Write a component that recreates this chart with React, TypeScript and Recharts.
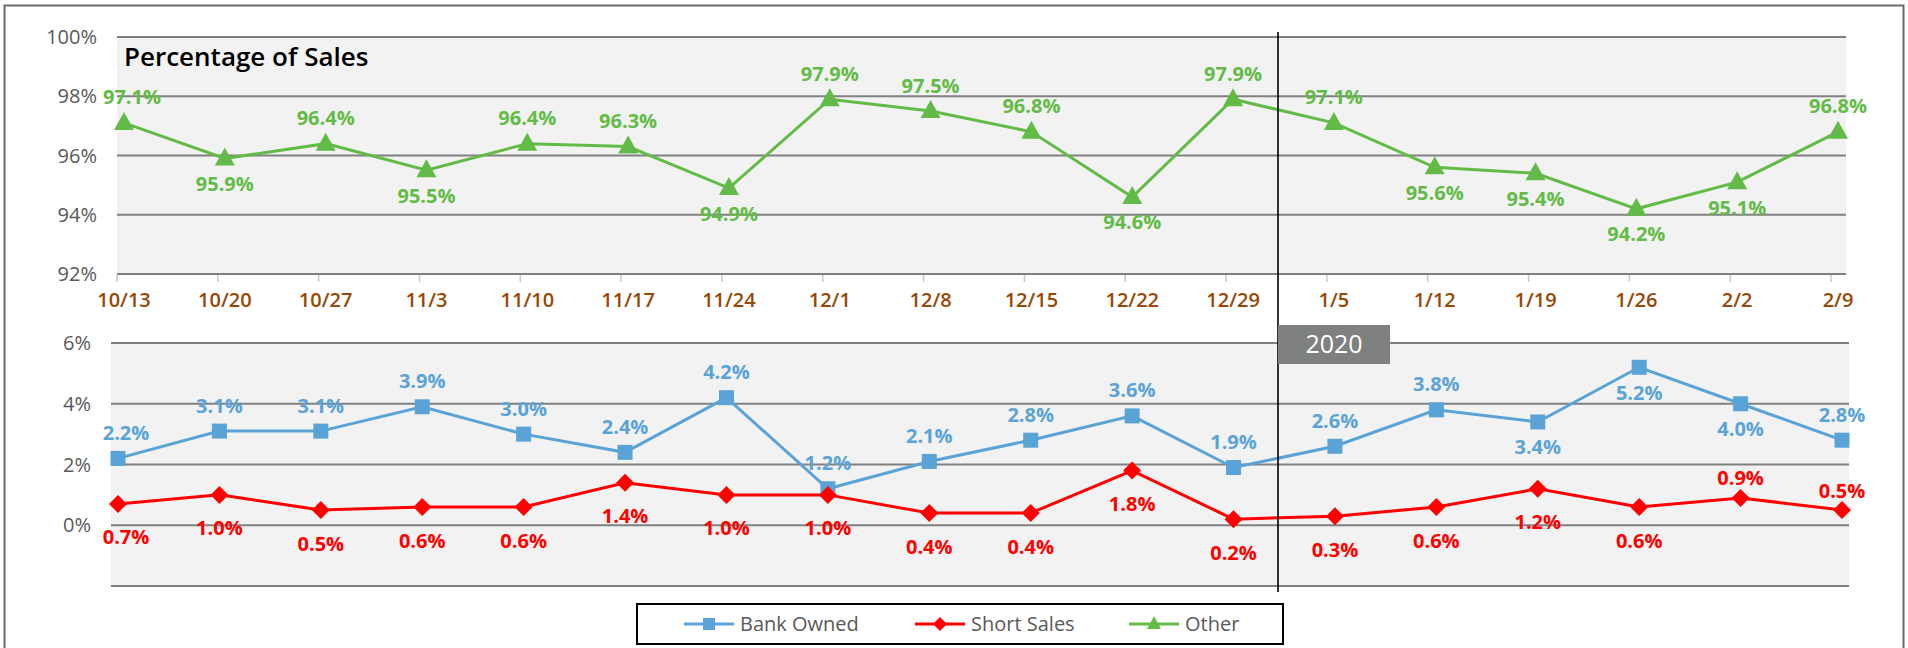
import React from "react";
import {
  LineChart,
  Line,
  XAxis,
  YAxis,
  CartesianGrid,
  LabelList,
} from "recharts";

// week labels
const weeks = [
  "10/13", "10/20", "10/27", "11/3", "11/10", "11/17", "11/24", "12/1", "12/8",
  "12/15", "12/22", "12/29", "1/5", "1/12", "1/19", "1/26", "2/2", "2/9",
];

// share of sales, %
const other = [97.1, 95.9, 96.4, 95.5, 96.4, 96.3, 94.9, 97.9, 97.5, 96.8, 94.6, 97.9, 97.1, 95.6, 95.4, 94.2, 95.1, 96.8];
const bankOwned = [2.2, 3.1, 3.1, 3.9, 3.0, 2.4, 4.2, 1.2, 2.1, 2.8, 3.6, 1.9, 2.6, 3.8, 3.4, 5.2, 4.0, 2.8];
const shortSales = [0.7, 1.0, 0.5, 0.6, 0.6, 1.4, 1.0, 1.0, 0.4, 0.4, 1.8, 0.2, 0.3, 0.6, 1.2, 0.6, 0.9, 0.5];

const topTicks = [92, 94, 96, 98, 100];
const bottomTicks = [-2, 0, 2, 4, 6];

// label side for each point (a = above, b = below)
const otherSide = "ababaabaaabaabbbba".split("");
const bankSide = "aaaaaaaaaaaaaabbba".split("");
const shortSide = "bbbbbbbbbbbbbbbbaa".split("");

const GREEN = "#62bb46";
const BLUE = "#5aa3d6";
const RED = "#ff0000";
const FONT = "'Open Sans', 'Noto Sans', sans-serif";

const topData = weeks.map((w, i) => ({ week: w, other: other[i] }));
const bottomData = weeks.map((w, i) => ({ week: w, bank: bankOwned[i], short: shortSales[i] }));

const pct = (v: number) => `${v.toFixed(1)}%`;

function makeLabel(color: string, sides: string[], up: number, down: number) {
  return (props: any) => {
    const { x, y, value, index } = props;
    const dy = sides[index] === "a" ? -up : down;
    // first label is nudged in so it clears the axis labels
    const dx = index === 0 ? 8 : 0;
    return (
      <text
        x={x + dx}
        y={y + dy}
        textAnchor="middle"
        dominantBaseline="central"
        fill={color}
        fontFamily={FONT}
        fontWeight={700}
        fontSize={20}
      >
        {pct(value)}
      </text>
    );
  };
}

const Triangle = (props: any) => {
  const { cx, cy, index } = props;
  if (cx == null || cy == null) return null;
  return (
    <polygon
      key={`t${index}`}
      points={`${cx},${cy - 11} ${cx - 10},${cy + 7} ${cx + 10},${cy + 7}`}
      fill={GREEN}
    />
  );
};

const Square = (props: any) => {
  const { cx, cy, index } = props;
  if (cx == null || cy == null) return null;
  return <rect key={`s${index}`} x={cx - 7.5} y={cy - 7.5} width={15} height={15} fill={BLUE} />;
};

const Diamond = (props: any) => {
  const { cx, cy, index } = props;
  if (cx == null || cy == null) return null;
  return (
    <polygon
      key={`d${index}`}
      points={`${cx},${cy - 9} ${cx + 9},${cy} ${cx},${cy + 9} ${cx - 9},${cy}`}
      fill={RED}
    />
  );
};

const WeekTick = (props: any) => {
  const { x, y, payload } = props;
  return (
    <g>
      <line x1={x - 7} x2={x - 7} y1={y + 1} y2={y + 8} stroke="#c8c8c8" strokeWidth={1.5} />
      <text x={x} y={y + 33} textAnchor="middle" fill="#984807" fontFamily={FONT} fontWeight={600} fontSize={20}>
        {payload.value}
      </text>
    </g>
  );
};

const yTickStyle = { fill: "#595959", fontSize: 20, fontFamily: FONT };

const legendItems = [
  { name: "Bank Owned", color: BLUE, marker: "square", x: 684 },
  { name: "Short Sales", color: RED, marker: "diamond", x: 915 },
  { name: "Other", color: GREEN, marker: "triangle", x: 1129 },
];

function LegendMarker({ kind, cx, cy, color }: { kind: string; cx: number; cy: number; color: string }) {
  if (kind === "square") return <rect x={cx - 6} y={cy - 6} width={12} height={12} fill={color} />;
  if (kind === "diamond")
    return <polygon points={`${cx},${cy - 7} ${cx + 7},${cy} ${cx},${cy + 7} ${cx - 7},${cy}`} fill={color} />;
  return <polygon points={`${cx},${cy - 8} ${cx - 7},${cy + 5} ${cx + 7},${cy + 5}`} fill={color} />;
}

export default function App() {
  return (
    <div style={{ position: "absolute", left: 0, top: 0, width: 1908, height: 648, background: "#fff" }}>
      {/* upper panel: Other */}
      <div style={{ position: "absolute", left: 0, top: 0 }}>
        <LineChart width={1908} height={320} data={topData} margin={{ top: 37, right: 62, bottom: 0, left: 0 }}>
          <CartesianGrid vertical={false} stroke="#808080" strokeWidth={1.8} fill="#f2f2f2" fillOpacity={1} />
          <XAxis
            dataKey="week"
            height={46}
            padding={{ left: 7, right: 8 }}
            axisLine={false}
            tickLine={false}
            tickSize={0}
            tickMargin={0}
            interval={0}
            tick={<WeekTick />}
          />
          <YAxis
            width={117}
            domain={[92, 100]}
            ticks={topTicks}
            tickFormatter={(v: number) => `${v}%`}
            axisLine={false}
            tickLine={false}
            tickSize={0}
            tickMargin={20}
            tick={yTickStyle}
          />
          <Line
            dataKey="other"
            name="Other"
            stroke={GREEN}
            strokeWidth={3}
            dot={Triangle}
            activeDot={false}
            isAnimationActive={false}
          >
            <LabelList dataKey="other" content={makeLabel(GREEN, otherSide, 26, 25)} />
          </Line>
        </LineChart>
      </div>

      {/* lower panel: Bank Owned + Short Sales */}
      <div style={{ position: "absolute", left: 0, top: 320 }}>
        <LineChart width={1908} height={280} data={bottomData} margin={{ top: 23, right: 59, bottom: 14, left: 0 }}>
          <CartesianGrid vertical={false} stroke="#808080" strokeWidth={1.8} fill="#f2f2f2" fillOpacity={1} />
          <XAxis dataKey="week" hide padding={{ left: 7, right: 7 }} />
          <YAxis
            width={111}
            domain={[-2, 6]}
            ticks={bottomTicks}
            tickFormatter={(v: number) => (v < 0 ? "" : `${v}%`)}
            axisLine={false}
            tickLine={false}
            tickSize={0}
            tickMargin={20}
            tick={yTickStyle}
          />
          <Line
            dataKey="bank"
            name="Bank Owned"
            stroke={BLUE}
            strokeWidth={3}
            dot={Square}
            activeDot={false}
            isAnimationActive={false}
          >
            <LabelList dataKey="bank" content={makeLabel(BLUE, bankSide, 26, 25)} />
          </Line>
          <Line
            dataKey="short"
            name="Short Sales"
            stroke={RED}
            strokeWidth={3}
            dot={Diamond}
            activeDot={false}
            isAnimationActive={false}
          >
            <LabelList dataKey="short" content={makeLabel(RED, shortSide, 20, 33)} />
          </Line>
        </LineChart>
      </div>

      {/* overlay: frame, title, year divider, legend */}
      <svg width={1908} height={648} style={{ position: "absolute", left: 0, top: 0, pointerEvents: "none" }}>
        <path d="M4.5,648 L4.5,5.5 L1903.5,5.5 L1903.5,648" fill="none" stroke="#6a6a6a" strokeWidth={2} />
        <text x={124} y={66} fontFamily={FONT} fontSize={26} fontWeight={600} fill="#000">
          Percentage of Sales
        </text>
        <line x1={1278} x2={1278} y1={32} y2={592} stroke="#000" strokeWidth={1.6} />
        <rect x={1278} y={325} width={112} height={39} fill="#7f8080" />
        <text x={1334} y={353} textAnchor="middle" fontFamily={FONT} fontSize={25} fill="#fff">
          2020
        </text>
        <rect x={637} y={604} width={646} height={40} fill="#fff" stroke="#000" strokeWidth={2} />
        {legendItems.map((it) => (
          <g key={it.name}>
            <line x1={it.x} x2={it.x + 50} y1={624} y2={624} stroke={it.color} strokeWidth={3} />
            <LegendMarker kind={it.marker} cx={it.x + 25} cy={624} color={it.color} />
            <text x={it.x + 56} y={631} fontFamily={FONT} fontSize={20} fontWeight={500} fill="#595959">
              {it.name}
            </text>
          </g>
        ))}
      </svg>
    </div>
  );
}
